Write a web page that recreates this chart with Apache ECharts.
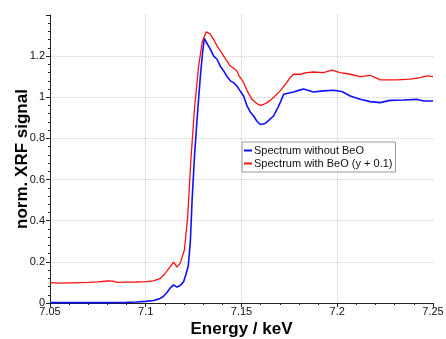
<!DOCTYPE html>
<html>
<head>
<meta charset="utf-8">
<script src="https://cdn.jsdelivr.net/npm/echarts@6/dist/echarts.min.js"></script>
<style>
  html, body { margin: 0; padding: 0; background: #fff; }
  #chart { width: 446px; height: 339px; }
</style>
</head>
<body>
<div id="chart"></div>
<script>
// energy (keV) / signal pairs
const blueEnergy = [7.05, 7.06, 7.07, 7.08, 7.09, 7.095, 7.1, 7.104, 7.107, 7.109, 7.111, 7.113, 7.1145, 7.1163, 7.118, 7.1198, 7.121, 7.1222, 7.1233, 7.1242, 7.1255, 7.127, 7.1285, 7.1297, 7.1306, 7.1315, 7.1337, 7.1355, 7.1372, 7.139, 7.1407, 7.1425, 7.1442, 7.146, 7.1476, 7.149, 7.1511, 7.1529, 7.1545, 7.1563, 7.158, 7.1598, 7.1612, 7.1624, 7.1645, 7.1667, 7.169, 7.1705, 7.172, 7.1772, 7.1807, 7.1824, 7.1876, 7.1928, 7.198, 7.2024, 7.2068, 7.212, 7.2172, 7.2224, 7.2276, 7.2346, 7.2415, 7.245, 7.25];
const blueSignal = [0.002, 0.002, 0.002, 0.002, 0.003, 0.005, 0.008, 0.012, 0.02, 0.03, 0.05, 0.075, 0.088, 0.077, 0.085, 0.104, 0.14, 0.18, 0.3, 0.5, 0.72, 0.92, 1.1, 1.22, 1.286, 1.27, 1.234, 1.2, 1.185, 1.15, 1.128, 1.1, 1.08, 1.07, 1.055, 1.035, 1.006, 0.958, 0.93, 0.909, 0.885, 0.868, 0.87, 0.873, 0.89, 0.909, 0.95, 0.98, 1.015, 1.026, 1.036, 1.04, 1.026, 1.031, 1.034, 1.028, 1.006, 0.99, 0.979, 0.974, 0.985, 0.987, 0.99, 0.982, 0.982];

const redEnergy = [7.05, 7.055, 7.06, 7.07, 7.075, 7.08, 7.083, 7.085, 7.09, 7.095, 7.1, 7.104, 7.1077, 7.1098, 7.1115, 7.1146, 7.1163, 7.118, 7.1202, 7.1219, 7.1236, 7.1255, 7.1276, 7.1295, 7.1316, 7.1337, 7.1355, 7.1372, 7.139, 7.1407, 7.1425, 7.1442, 7.146, 7.1476, 7.149, 7.1511, 7.153, 7.1555, 7.158, 7.1598, 7.1615, 7.1633, 7.165, 7.1667, 7.1702, 7.1735, 7.1754, 7.1772, 7.1807, 7.1842, 7.1876, 7.1928, 7.1972, 7.2015, 7.2068, 7.212, 7.2172, 7.2224, 7.2311, 7.2381, 7.2433, 7.2468, 7.25];
const redSignal = [0.099, 0.097, 0.098, 0.1, 0.103, 0.107, 0.106, 0.1, 0.101, 0.102, 0.104, 0.108, 0.12, 0.14, 0.161, 0.199, 0.174, 0.194, 0.259, 0.42, 0.7, 0.95, 1.15, 1.27, 1.318, 1.307, 1.28, 1.25, 1.225, 1.2, 1.175, 1.152, 1.14, 1.128, 1.1, 1.072, 1.03, 0.99, 0.97, 0.961, 0.965, 0.974, 0.985, 0.999, 1.031, 1.07, 1.096, 1.112, 1.112, 1.12, 1.123, 1.12, 1.132, 1.12, 1.112, 1.1, 1.107, 1.085, 1.085, 1.088, 1.096, 1.104, 1.1];

const seriesNames = ['Spectrum without BeO', 'Spectrum with BeO (y + 0.1)'];

function pairs(xs, ys) {
    return xs.map((x, i) => [x, ys[i]]);
}

const grid = '#cfcfcf';
let myChart = echarts.init(document.getElementById('chart'));
myChart.setOption({
    animation: false,
    textStyle: {fontFamily: 'Liberation Sans, Arial, sans-serif'},
    grid: {left: 50, right: 13, top: 15, bottom: 36, outerBoundsMode: 'none'},
    legend: {
        data: seriesNames,
        orient: 'vertical',
        left: 242, top: 142,
        icon: 'rect', itemWidth: 8, itemHeight: 2, itemGap: 2,
        padding: [3, 3, 3, 2],
        borderColor: '#999', borderWidth: 1, backgroundColor: '#fff',
        textStyle: {fontSize: 11, color: '#111', padding: [0, 0, 0, -3], lineHeight: 11}
    },
    xAxis: {
        type: 'value', min: 7.05, max: 7.25, interval: 0.05,
        name: 'Energy / keV', nameLocation: 'middle', nameGap: 18, nameMoveOverlap: false,
        nameTextStyle: {fontSize: 17, fontWeight: 'bold', color: '#000'},
        axisLine: {lineStyle: {color: '#222', width: 1}},
        axisTick: {length: 4, lineStyle: {color: '#222'}},
        minorTick: {show: true, splitNumber: 5, length: 2, lineStyle: {color: '#222'}},
        axisLabel: {fontSize: 11, color: '#111', margin: 3},
        splitLine: {show: true, lineStyle: {color: ['transparent', grid, grid, grid, 'transparent'], type: 'dotted'}}
    },
    yAxis: {
        type: 'value', min: 0, max: 1.4, interval: 0.2,
        name: 'norm. XRF signal', nameLocation: 'middle', nameGap: 19, nameMoveOverlap: false,
        nameTextStyle: {fontSize: 17, fontWeight: 'bold', color: '#000'},
        axisLine: {show: true, lineStyle: {color: '#222', width: 1}},
        axisTick: {show: true, length: 4, lineStyle: {color: '#222'}},
        minorTick: {show: true, splitNumber: 5, length: 2, lineStyle: {color: '#222'}},
        axisLabel: {fontSize: 11, color: '#111', margin: 5, showMaxLabel: false},
        splitLine: {show: true, lineStyle: {color: ['transparent', grid, grid, grid, grid, grid, grid, 'transparent'], type: 'dotted'}}
    },
    series: [
        {
            name: seriesNames[0], type: 'line', showSymbol: false,
            data: pairs(blueEnergy, blueSignal),
            itemStyle: {color: '#1010ff'},
            lineStyle: {color: '#1010ff', width: 1.6}
        },
        {
            name: seriesNames[1], type: 'line', showSymbol: false,
            data: pairs(redEnergy, redSignal),
            itemStyle: {color: '#ff1010'},
            lineStyle: {color: '#ff1010', width: 1.3}
        }
    ]
});
</script>
</body>
</html>
